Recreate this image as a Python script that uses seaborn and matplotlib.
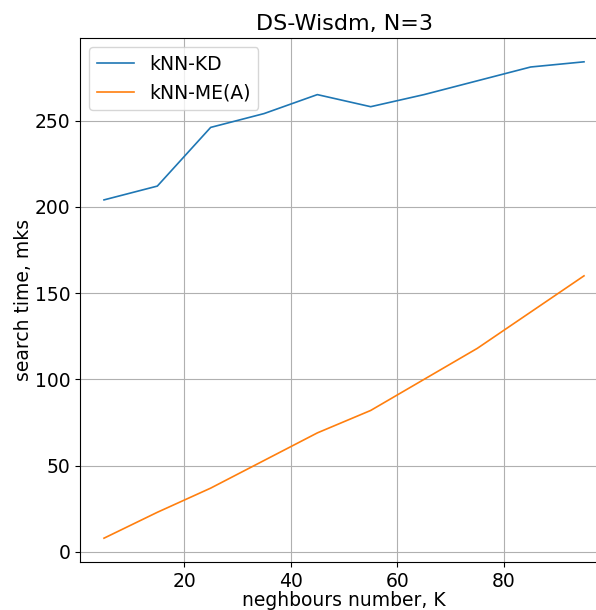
import numpy as np
import pandas as pd
import matplotlib
matplotlib.use("Agg")
import matplotlib.pyplot as plt
import seaborn as sns

k_values = [5, 15, 25, 35, 45, 55, 65, 75, 85, 95]
knn_kd = [204, 212, 246, 254, 265, 258, 265, 273, 281, 284]
knn_me = [8, 23, 37, 53, 69, 82, 100, 118, 139, 160]
methods = ["kNN-KD", "kNN-ME(A)"]

df = pd.DataFrame({
    "K": k_values * 2,
    "time": knn_kd + knn_me,
    "method": np.repeat(methods, len(k_values)),
})

fig = plt.figure(figsize=(5.96, 6.10), dpi=100)
# axes run past the right edge of the picture, like the reference
ax = fig.add_axes([80 / 596, 48 / 610, 528 / 596, 524 / 610])

sns.lineplot(data=df, x="K", y="time", hue="method",
             palette=["#1f77b4", "#ff7f0e"], linewidth=1.2, ax=ax)

ax.grid(True, color="#b0b0b0", linewidth=0.8)
ax.set_title("DS-Wisdm, N=3", fontsize=16)
ax.set_xlabel("neghbours number, K", fontsize=13.5, labelpad=0)
ax.set_ylabel("search time, mks", fontsize=13.5, labelpad=1.5)
ax.tick_params(labelsize=13.5)
ax.set_xticks([20, 40, 60, 80])
ax.legend(title=None, fontsize=13.5, loc="upper left")

fig.savefig("out.png", dpi=100)
